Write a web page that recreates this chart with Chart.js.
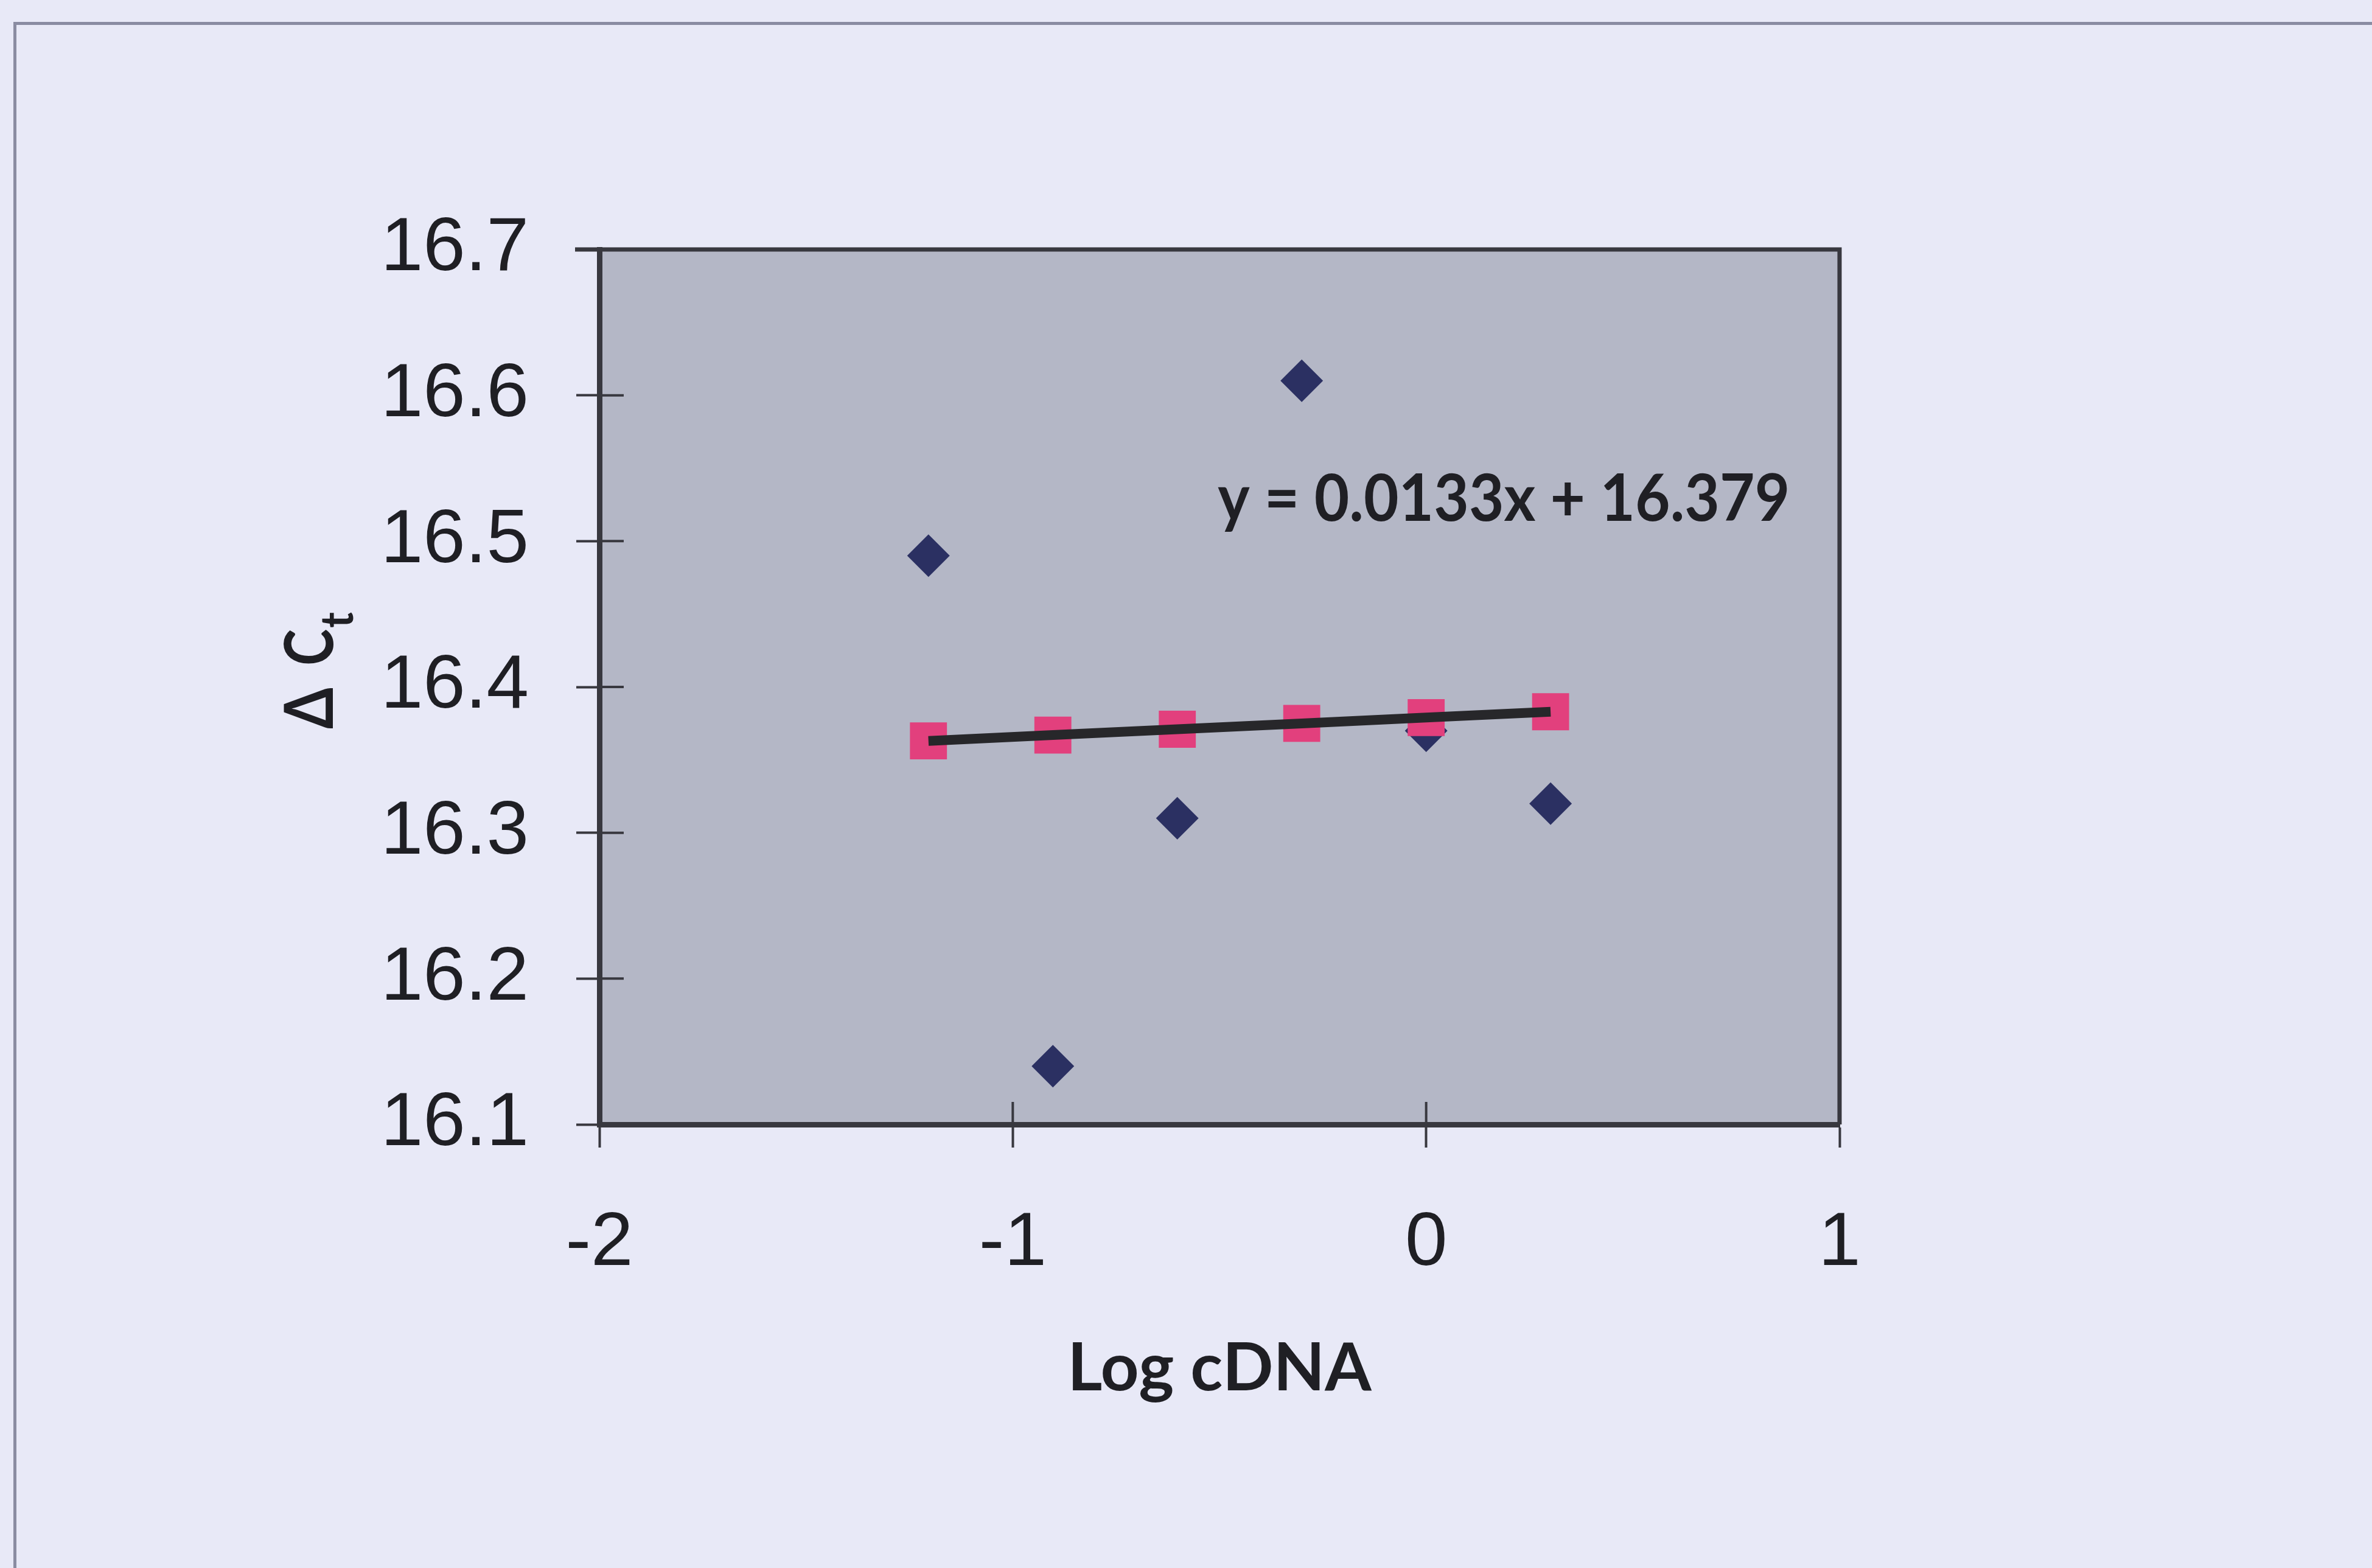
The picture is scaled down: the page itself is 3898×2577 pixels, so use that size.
<!DOCTYPE html>
<html>
<head>
<meta charset="utf-8">
<script src="https://cdn.jsdelivr.net/npm/chart.js@4.4.1/dist/chart.umd.min.js"></script>
<style>
  html, body { margin: 0; padding: 0; background: #e8e9f7; }
  #wrap { position: relative; width: 3898px; height: 2577px; }
  #frame { position: absolute; left: 22px; top: 36px; right: -20px; bottom: -20px; border-left: 5px solid #8a8ca2; border-top: 5px solid #8a8ca2; }
</style>
</head>
<body>
<div id="wrap">
  <div id="frame"></div>
  <canvas id="chart" width="3898" height="2577" style="position:absolute;left:0;top:0"></canvas>
</div>
<script>
// log10 of the cDNA dilution series
const logCdna   = [-1.204, -0.903, -0.602, -0.301, 0, 0.301]
// measured delta Ct (blue diamonds)
const deltaCt   = [16.49, 16.14, 16.31, 16.61, 16.37, 16.32]
// values on the trendline (pink squares)
const fitCt     = [16.363, 16.367, 16.371, 16.375, 16.379, 16.383]
const xTicks    = [-2, -1, 0, 1]
const yTicks    = [16.1, 16.2, 16.3, 16.4, 16.5, 16.6, 16.7]
const equation  = 'y = 0.0133x + 16.379'
const eqAt      = { x: -0.504, y: 16.514 }

const pts = ys => logCdna.map((x, i) => ({ x, y: ys[i] }))

const AXIS = '#38383f'
const INK = '#1f1f24'
const TICK_FONT = { family: "'Liberation Sans', Arial, sans-serif", size: 125 }
const TITLE_FONT = { family: "Lato, 'DejaVu Sans', sans-serif", size: 110, weight: 'bold' }

// plot background, top/right border, inner half of tick marks, equation, y title
const plotDeco = {
  id: 'plotDeco',
  beforeDraw(chart) {
    const { ctx, chartArea: a } = chart
    ctx.save()
    ctx.fillStyle = '#b4b7c6'
    ctx.fillRect(a.left, a.top, a.right - a.left, a.bottom - a.top)
    ctx.restore()
  },
  afterDraw(chart) {
    const { ctx, chartArea: a, scales } = chart
    ctx.save()
    ctx.strokeStyle = AXIS
    ctx.lineWidth = 7
    ctx.beginPath()
    ctx.moveTo(a.left - 40, a.top); ctx.lineTo(a.right, a.top); ctx.lineTo(a.right, a.bottom)
    ctx.stroke()
    ctx.lineWidth = 4
    ctx.beginPath()
    yTicks.forEach(v => {
      const py = scales.y.getPixelForValue(v)
      ctx.moveTo(a.left, py); ctx.lineTo(a.left + 40, py)
    })
    xTicks.forEach(v => {
      const px = scales.x.getPixelForValue(v)
      ctx.moveTo(px, a.bottom); ctx.lineTo(px, a.bottom - 37)
    })
    ctx.stroke()

    ctx.fillStyle = INK
    ctx.font = "bold 107px Lato, 'DejaVu Sans', sans-serif"
    ctx.textBaseline = 'alphabetic'
    ctx.textAlign = 'left'
    ctx.fillText(equation, scales.x.getPixelForValue(eqAt.x), scales.y.getPixelForValue(eqAt.y), 940)

    // y axis title: Δ C with subscript t, rotated
    const cy = (a.top + a.bottom) / 2
    ctx.translate(547, cy + 69)
    ctx.rotate(-Math.PI / 2)
    ctx.font = "bold 112px Lato, 'DejaVu Sans', sans-serif"
    ctx.fillText('Δ', 0, 0, 68)
    ctx.fillText('C', 104, 0, 60)
    ctx.font = "bold 74px Lato, 'DejaVu Sans', sans-serif"
    ctx.fillText('t', 166, 33, 26)
    ctx.restore()
  }
}

new Chart(document.getElementById('chart'), {
  type: 'scatter',
  data: {
    datasets: [
      { label: 'trend', type: 'line', data: pts(fitCt), borderColor: '#27272a', borderWidth: 16,
        pointRadius: 0, fill: false, tension: 0, order: 0 },
      { label: 'fit', data: pts(fitCt), pointStyle: 'rect', pointRadius: 43, borderWidth: 0,
        backgroundColor: '#e2407d', borderColor: '#e2407d', order: 1 },
      { label: 'delta Ct', data: pts(deltaCt), pointStyle: 'rectRot', pointRadius: 35, borderWidth: 0,
        backgroundColor: '#2b3062', borderColor: '#2b3062', order: 2 },
    ]
  },
  options: {
    responsive: false, animation: false, devicePixelRatio: 1,
    layout: { padding: { left: 440, right: 875, top: 410, bottom: 261 } },
    plugins: { legend: { display: false }, tooltip: { enabled: false } },
    scales: {
      x: {
        type: 'linear', min: -2, max: 1,
        afterBuildTicks: s => { s.ticks = xTicks.map(v => ({ value: v })) },
        afterFit: s => { s.height = 468 },
        ticks: { font: TICK_FONT, color: INK, padding: 84, callback: v => String(v) },
        grid: { drawOnChartArea: false, drawTicks: true, tickLength: 38, tickWidth: 4, color: AXIS },
        border: { display: true, color: AXIS, width: 9 },
        title: { display: true, text: 'Log cDNA', font: TITLE_FONT, color: INK, padding: 0 },
      },
      y: {
        type: 'linear', min: 16.1, max: 16.7,
        afterBuildTicks: s => { s.ticks = yTicks.map(v => ({ value: v })) },
        afterFit: s => { s.width = 545 },
        ticks: { font: TICK_FONT, color: INK, padding: 78, callback: v => v.toFixed(1) },
        grid: { drawOnChartArea: false, drawTicks: true, tickLength: 38, tickWidth: 4, color: AXIS },
        border: { display: true, color: AXIS, width: 9 },
        title: { display: false },
      }
    }
  },
  plugins: [plotDeco]
})
</script>
</body>
</html>
